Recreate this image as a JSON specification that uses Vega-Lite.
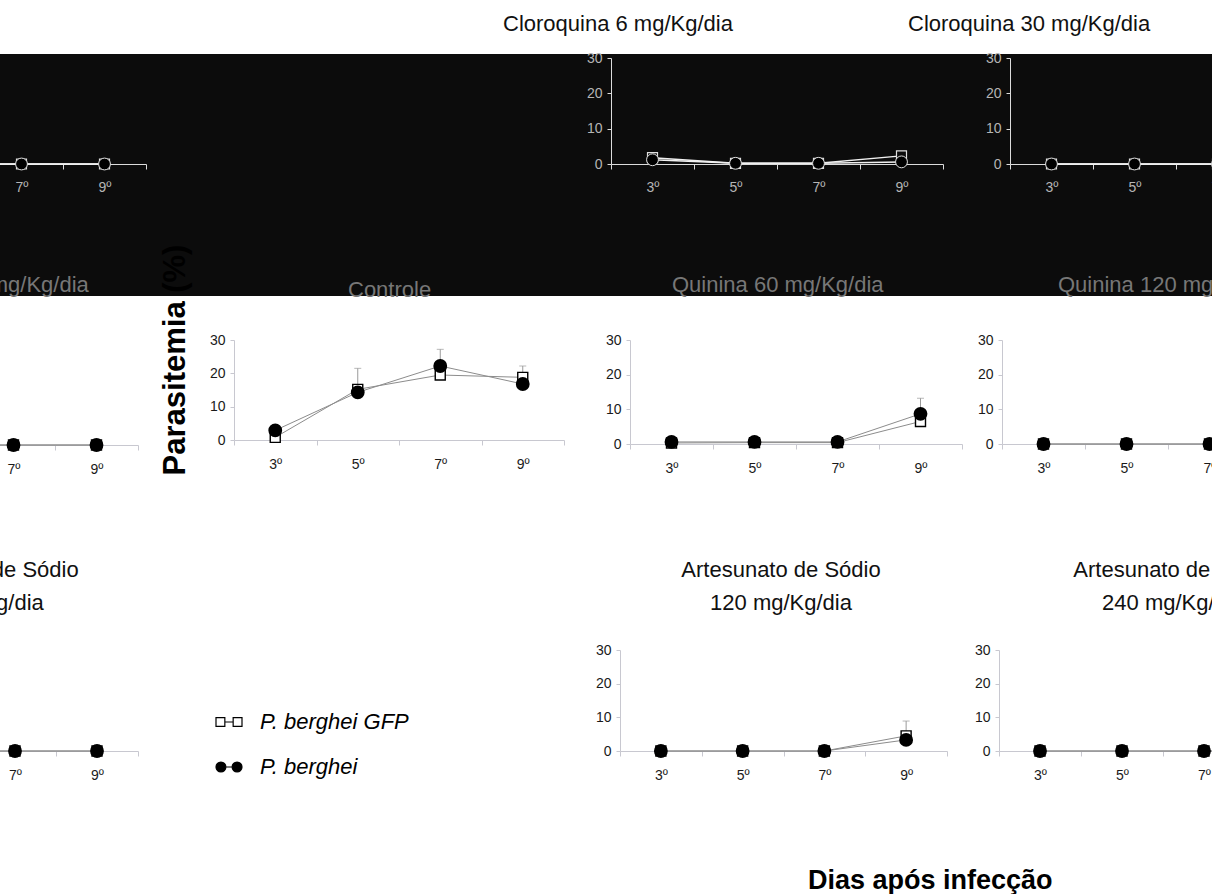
{
"$schema": "https://vega.github.io/schema/vega-lite/v6.json",
"background": "white",
"padding": {"left": -196, "right": -188, "top": 13, "bottom": 0},
"data": {"values": [
{"painel":"1L","dia":"3º","serie":"P. berghei GFP","parasitemia":0},
{"painel":"1L","dia":"5º","serie":"P. berghei GFP","parasitemia":0},
{"painel":"1L","dia":"7º","serie":"P. berghei GFP","parasitemia":0},
{"painel":"1L","dia":"9º","serie":"P. berghei GFP","parasitemia":0},
{"painel":"1L","dia":"3º","serie":"P. berghei","parasitemia":0},
{"painel":"1L","dia":"5º","serie":"P. berghei","parasitemia":0},
{"painel":"1L","dia":"7º","serie":"P. berghei","parasitemia":0},
{"painel":"1L","dia":"9º","serie":"P. berghei","parasitemia":0},
{"painel":"1C3","dia":"3º","serie":"P. berghei GFP","parasitemia":1.8},
{"painel":"1C3","dia":"5º","serie":"P. berghei GFP","parasitemia":0.2},
{"painel":"1C3","dia":"7º","serie":"P. berghei GFP","parasitemia":0.2},
{"painel":"1C3","dia":"9º","serie":"P. berghei GFP","parasitemia":2.3},
{"painel":"1C3","dia":"3º","serie":"P. berghei","parasitemia":1.2},
{"painel":"1C3","dia":"5º","serie":"P. berghei","parasitemia":0.2},
{"painel":"1C3","dia":"7º","serie":"P. berghei","parasitemia":0.2},
{"painel":"1C3","dia":"9º","serie":"P. berghei","parasitemia":0.6},
{"painel":"1C4","dia":"3º","serie":"P. berghei GFP","parasitemia":0},
{"painel":"1C4","dia":"5º","serie":"P. berghei GFP","parasitemia":0},
{"painel":"1C4","dia":"7º","serie":"P. berghei GFP","parasitemia":0},
{"painel":"1C4","dia":"9º","serie":"P. berghei GFP","parasitemia":0},
{"painel":"1C4","dia":"3º","serie":"P. berghei","parasitemia":0},
{"painel":"1C4","dia":"5º","serie":"P. berghei","parasitemia":0},
{"painel":"1C4","dia":"7º","serie":"P. berghei","parasitemia":0},
{"painel":"1C4","dia":"9º","serie":"P. berghei","parasitemia":0},
{"painel":"2L","dia":"3º","serie":"P. berghei GFP","parasitemia":0},
{"painel":"2L","dia":"5º","serie":"P. berghei GFP","parasitemia":0},
{"painel":"2L","dia":"7º","serie":"P. berghei GFP","parasitemia":0},
{"painel":"2L","dia":"9º","serie":"P. berghei GFP","parasitemia":0},
{"painel":"2L","dia":"3º","serie":"P. berghei","parasitemia":0},
{"painel":"2L","dia":"5º","serie":"P. berghei","parasitemia":0},
{"painel":"2L","dia":"7º","serie":"P. berghei","parasitemia":0},
{"painel":"2L","dia":"9º","serie":"P. berghei","parasitemia":0},
{"painel":"2C","dia":"3º","serie":"P. berghei GFP","parasitemia":0.8},
{"painel":"2C","dia":"5º","serie":"P. berghei GFP","parasitemia":15.2,"erro":21.5},
{"painel":"2C","dia":"7º","serie":"P. berghei GFP","parasitemia":19.5},
{"painel":"2C","dia":"9º","serie":"P. berghei GFP","parasitemia":18.8,"erro":22.2},
{"painel":"2C","dia":"3º","serie":"P. berghei","parasitemia":2.9},
{"painel":"2C","dia":"5º","serie":"P. berghei","parasitemia":14.3},
{"painel":"2C","dia":"7º","serie":"P. berghei","parasitemia":22.2,"erro":27.2},
{"painel":"2C","dia":"9º","serie":"P. berghei","parasitemia":16.8},
{"painel":"2Q60","dia":"3º","serie":"P. berghei GFP","parasitemia":0.3},
{"painel":"2Q60","dia":"5º","serie":"P. berghei GFP","parasitemia":0.4},
{"painel":"2Q60","dia":"7º","serie":"P. berghei GFP","parasitemia":0.4},
{"painel":"2Q60","dia":"9º","serie":"P. berghei GFP","parasitemia":6.5},
{"painel":"2Q60","dia":"3º","serie":"P. berghei","parasitemia":0.6},
{"painel":"2Q60","dia":"5º","serie":"P. berghei","parasitemia":0.6},
{"painel":"2Q60","dia":"7º","serie":"P. berghei","parasitemia":0.6},
{"painel":"2Q60","dia":"9º","serie":"P. berghei","parasitemia":8.7,"erro":13.2},
{"painel":"2Q120","dia":"3º","serie":"P. berghei GFP","parasitemia":0},
{"painel":"2Q120","dia":"5º","serie":"P. berghei GFP","parasitemia":0},
{"painel":"2Q120","dia":"7º","serie":"P. berghei GFP","parasitemia":0},
{"painel":"2Q120","dia":"9º","serie":"P. berghei GFP","parasitemia":0},
{"painel":"2Q120","dia":"3º","serie":"P. berghei","parasitemia":0},
{"painel":"2Q120","dia":"5º","serie":"P. berghei","parasitemia":0},
{"painel":"2Q120","dia":"7º","serie":"P. berghei","parasitemia":0},
{"painel":"2Q120","dia":"9º","serie":"P. berghei","parasitemia":0},
{"painel":"3L","dia":"3º","serie":"P. berghei GFP","parasitemia":0},
{"painel":"3L","dia":"5º","serie":"P. berghei GFP","parasitemia":0},
{"painel":"3L","dia":"7º","serie":"P. berghei GFP","parasitemia":0},
{"painel":"3L","dia":"9º","serie":"P. berghei GFP","parasitemia":0},
{"painel":"3L","dia":"3º","serie":"P. berghei","parasitemia":0},
{"painel":"3L","dia":"5º","serie":"P. berghei","parasitemia":0},
{"painel":"3L","dia":"7º","serie":"P. berghei","parasitemia":0},
{"painel":"3L","dia":"9º","serie":"P. berghei","parasitemia":0},
{"painel":"3C3","dia":"3º","serie":"P. berghei GFP","parasitemia":0},
{"painel":"3C3","dia":"5º","serie":"P. berghei GFP","parasitemia":0},
{"painel":"3C3","dia":"7º","serie":"P. berghei GFP","parasitemia":0},
{"painel":"3C3","dia":"9º","serie":"P. berghei GFP","parasitemia":4.5,"erro":8.9},
{"painel":"3C3","dia":"3º","serie":"P. berghei","parasitemia":0},
{"painel":"3C3","dia":"5º","serie":"P. berghei","parasitemia":0},
{"painel":"3C3","dia":"7º","serie":"P. berghei","parasitemia":0},
{"painel":"3C3","dia":"9º","serie":"P. berghei","parasitemia":3.3},
{"painel":"3C4","dia":"3º","serie":"P. berghei GFP","parasitemia":0},
{"painel":"3C4","dia":"5º","serie":"P. berghei GFP","parasitemia":0},
{"painel":"3C4","dia":"7º","serie":"P. berghei GFP","parasitemia":0},
{"painel":"3C4","dia":"9º","serie":"P. berghei GFP","parasitemia":0},
{"painel":"3C4","dia":"3º","serie":"P. berghei","parasitemia":0},
{"painel":"3C4","dia":"5º","serie":"P. berghei","parasitemia":0},
{"painel":"3C4","dia":"7º","serie":"P. berghei","parasitemia":0},
{"painel":"3C4","dia":"9º","serie":"P. berghei","parasitemia":0}
]},
"title": {"text": "Dias após infecção", "orient": "bottom", "anchor": "start", "frame": "bounds", "dx": 1004, "offset": 99, "fontSize": 27, "fontWeight": "bold", "color": "black", "baseline": "middle"},
"config": {
  "font": "Liberation Sans",
  "view": {"stroke": null},
  "title": {"font": "Liberation Sans", "fontSize": 22, "fontWeight": "normal", "color": "#111111", "baseline": "middle", "frame": "group"},
  "axis": {"grid": false, "labelFont": "Liberation Sans", "labelFontSize": 14, "labelColor": "#1a1a1a", "domainColor": "#c8c8d0", "tickColor": "#c8c8d0", "domainWidth": 1, "tickWidth": 1},
  "axisX": {"tickBand": "extent", "tickSize": 5, "labelPadding": 12, "labelAngle": 0},
  "axisY": {"tickSize": 4, "labelPadding": 5}
},
"columns": 4,
"align": "each",
"spacing": {"row": 44, "column": 0},
"bounds": "flush",
"concat": [
  {"width": 430, "height": 242, "view": {"fill": "#0c0c0c", "stroke": null},
   "transform": [{"filter": "datum.painel == '1L'"}],
   "encoding": {
     "x": {"field": "dia", "type": "ordinal", "scale": {"type": "band", "domain": ["3º","5º","7º","9º"], "range": [10, 342], "paddingInner": 0, "paddingOuter": 0}, "axis": {"title": null, "offset": -132, "labelColor": "#b5b5b5", "domainColor": "#dcdcdc", "tickColor": "#dcdcdc", "labelPadding": 11}},
     "y": {"field": "parasitemia", "type": "quantitative", "scale": {"domain": [0, 30], "nice": false, "range": [110, 4]}, "axis": null}},
   "layer": [
     {"mark": {"type": "line", "color": "#f0f0f0", "strokeWidth": 1.5}, "encoding": {"detail": {"field": "serie"}}},
     {"transform": [{"filter": "datum.serie == 'P. berghei GFP'"}], "mark": {"type": "point", "shape": "square", "filled": true, "fill": "#0c0c0c", "stroke": "#e0e0e0", "strokeWidth": 1.2, "size": 100, "opacity": 1}},
     {"transform": [{"filter": "datum.serie == 'P. berghei'"}], "mark": {"type": "point", "shape": "circle", "filled": true, "fill": "black", "stroke": "#e0e0e0", "strokeWidth": 1, "size": 140, "opacity": 1}}
   ]},
  {"width": 377, "height": 242, "view": {"fill": "#0c0c0c", "stroke": null},
   "transform": [{"filter": "datum.painel == '1M'"}],
   "mark": {"type": "point", "opacity": 0}},
  {"width": 388, "height": 242, "view": {"fill": "#0c0c0c", "stroke": null},
   "title": {"text": "Cloroquina 6 mg/Kg/dia", "anchor": "start", "dx": -108, "offset": 15},
   "transform": [{"filter": "datum.painel == '1C3'"}],
   "encoding": {
     "x": {"field": "dia", "type": "ordinal", "scale": {"type": "band", "domain": ["3º","5º","7º","9º"], "range": [0, 332], "paddingInner": 0, "paddingOuter": 0}, "axis": {"title": null, "offset": -132, "labelColor": "#b5b5b5", "domainColor": "#dcdcdc", "tickColor": "#dcdcdc", "labelPadding": 11}},
     "y": {"field": "parasitemia", "type": "quantitative", "scale": {"domain": [0, 30], "nice": false, "range": [110, 4]}, "axis": {"title": null, "values": [0, 10, 20, 30], "labelColor": "#b5b5b5", "domainColor": "#dcdcdc", "tickColor": "#dcdcdc"}}},
   "layer": [
     {"mark": {"type": "line", "color": "#f0f0f0", "strokeWidth": 1.5}, "encoding": {"detail": {"field": "serie"}}},
     {"transform": [{"filter": "datum.serie == 'P. berghei GFP'"}], "mark": {"type": "point", "shape": "square", "filled": true, "fill": "#0c0c0c", "stroke": "#e0e0e0", "strokeWidth": 1.2, "size": 100, "opacity": 1}},
     {"transform": [{"filter": "datum.serie == 'P. berghei'"}], "mark": {"type": "point", "shape": "circle", "filled": true, "fill": "black", "stroke": "#e0e0e0", "strokeWidth": 1, "size": 140, "opacity": 1}}
   ]},
  {"width": 401, "height": 242, "view": {"fill": "#0c0c0c", "stroke": null},
   "title": {"text": "Cloroquina 30 mg/Kg/dia", "anchor": "start", "dx": -91, "offset": 15},
   "transform": [{"filter": "datum.painel == '1C4'"}],
   "encoding": {
     "x": {"field": "dia", "type": "ordinal", "scale": {"type": "band", "domain": ["3º","5º","7º","9º"], "range": [11, 343], "paddingInner": 0, "paddingOuter": 0}, "axis": {"title": null, "offset": -132, "labelColor": "#b5b5b5", "domainColor": "#dcdcdc", "tickColor": "#dcdcdc", "labelPadding": 11}},
     "y": {"field": "parasitemia", "type": "quantitative", "scale": {"domain": [0, 30], "nice": false, "range": [110, 4]}, "axis": {"title": null, "offset": -11, "values": [0, 10, 20, 30], "labelColor": "#b5b5b5", "domainColor": "#dcdcdc", "tickColor": "#dcdcdc"}}},
   "layer": [
     {"mark": {"type": "line", "color": "#f0f0f0", "strokeWidth": 1.5}, "encoding": {"detail": {"field": "serie"}}},
     {"transform": [{"filter": "datum.serie == 'P. berghei GFP'"}], "mark": {"type": "point", "shape": "square", "filled": true, "fill": "#0c0c0c", "stroke": "#e0e0e0", "strokeWidth": 1.2, "size": 100, "opacity": 1}},
     {"transform": [{"filter": "datum.serie == 'P. berghei'"}], "mark": {"type": "point", "shape": "circle", "filled": true, "fill": "black", "stroke": "#e0e0e0", "strokeWidth": 1, "size": 140, "opacity": 1}}
   ]},
  {"width": 430, "height": 266,
   "title": {"text": "Quinina 30 mg/Kg/dia", "anchor": "middle", "dx": -36, "offset": 43, "color": "#777777"},
   "transform": [{"filter": "datum.painel == '2L'"}],
   "encoding": {
     "x": {"field": "dia", "type": "ordinal", "scale": {"type": "band", "domain": ["3º","5º","7º","9º"], "range": [2, 334], "paddingInner": 0, "paddingOuter": 0}, "axis": {"title": null, "offset": -161}},
     "y": {"field": "parasitemia", "type": "quantitative", "scale": {"domain": [0, 30], "nice": false, "range": [105, 0]}, "axis": null}},
   "layer": [
     {"mark": {"type": "line", "color": "#8c8c8c", "strokeWidth": 1}, "encoding": {"detail": {"field": "serie"}}},
     {"transform": [{"filter": "datum.serie == 'P. berghei GFP'"}], "mark": {"type": "point", "shape": "square", "filled": true, "fill": "white", "stroke": "black", "strokeWidth": 1.4, "size": 100, "opacity": 1}},
     {"transform": [{"filter": "datum.serie == 'P. berghei'"}], "mark": {"type": "point", "shape": "circle", "filled": true, "fill": "black", "stroke": "black", "size": 140, "opacity": 1}}
   ]},
  {"width": 377, "height": 266,
   "title": {"text": "Controle", "anchor": "start", "dx": 114, "offset": -58, "color": "#777777"},
   "transform": [{"filter": "datum.painel == '2C'"}],
   "encoding": {
     "x": {"field": "dia", "type": "ordinal", "scale": {"type": "band", "domain": ["3º","5º","7º","9º"], "range": [0, 330], "paddingInner": 0, "paddingOuter": 0}, "axis": {"title": null, "offset": -166}},
     "y": {"field": "parasitemia", "type": "quantitative", "scale": {"domain": [0, 30], "nice": false, "range": [100, 0]}, "axis": {"title": "Parasitemia (%)", "values": [0, 10, 20, 30], "titleFont": "Liberation Sans", "titleFontSize": 31, "titleFontWeight": "bold", "titleColor": "black", "titleAngle": 270, "titleX": -59, "titleY": 19.5, "titleAlign": "center", "titleBaseline": "middle"}}},
   "layer": [
     {"transform": [{"filter": "isValid(datum.erro)"}], "mark": {"type": "rule", "color": "#9a9a9a"}, "encoding": {"y2": {"field": "erro"}}},
     {"transform": [{"filter": "isValid(datum.erro)"}], "mark": {"type": "tick", "color": "#9a9a9a", "size": 7, "thickness": 1}, "encoding": {"y": {"field": "erro", "type": "quantitative"}}},
     {"mark": {"type": "line", "color": "#8c8c8c", "strokeWidth": 1}, "encoding": {"detail": {"field": "serie"}}},
     {"transform": [{"filter": "datum.serie == 'P. berghei GFP'"}], "mark": {"type": "point", "shape": "square", "filled": true, "fill": "white", "stroke": "black", "strokeWidth": 1.4, "size": 100, "opacity": 1}},
     {"transform": [{"filter": "datum.serie == 'P. berghei'"}], "mark": {"type": "point", "shape": "circle", "filled": true, "fill": "black", "stroke": "black", "size": 140, "opacity": 1}}
   ]},
  {"width": 388, "height": 266,
   "title": {"text": "Quinina 60 mg/Kg/dia", "anchor": "start", "dx": 61, "offset": 36, "color": "#777777"},
   "transform": [{"filter": "datum.painel == '2Q60'"}],
   "encoding": {
     "x": {"field": "dia", "type": "ordinal", "scale": {"type": "band", "domain": ["3º","5º","7º","9º"], "range": [19, 351], "paddingInner": 0, "paddingOuter": 0}, "axis": {"title": null, "offset": -162}},
     "y": {"field": "parasitemia", "type": "quantitative", "scale": {"domain": [0, 30], "nice": false, "range": [104, 0]}, "axis": {"title": null, "offset": -19, "values": [0, 10, 20, 30]}}},
   "layer": [
     {"transform": [{"filter": "isValid(datum.erro)"}], "mark": {"type": "rule", "color": "#9a9a9a"}, "encoding": {"y2": {"field": "erro"}}},
     {"transform": [{"filter": "isValid(datum.erro)"}], "mark": {"type": "tick", "color": "#9a9a9a", "size": 7, "thickness": 1}, "encoding": {"y": {"field": "erro", "type": "quantitative"}}},
     {"mark": {"type": "line", "color": "#8c8c8c", "strokeWidth": 1}, "encoding": {"detail": {"field": "serie"}}},
     {"transform": [{"filter": "datum.serie == 'P. berghei GFP'"}], "mark": {"type": "point", "shape": "square", "filled": true, "fill": "white", "stroke": "black", "strokeWidth": 1.4, "size": 100, "opacity": 1}},
     {"transform": [{"filter": "datum.serie == 'P. berghei'"}], "mark": {"type": "point", "shape": "circle", "filled": true, "fill": "black", "stroke": "black", "size": 140, "opacity": 1}}
   ]},
  {"width": 401, "height": 266,
   "title": {"text": "Quinina 120 mg/Kg/dia", "anchor": "start", "dx": 59, "offset": 36, "color": "#777777"},
   "transform": [{"filter": "datum.painel == '2Q120'"}],
   "encoding": {
     "x": {"field": "dia", "type": "ordinal", "scale": {"type": "band", "domain": ["3º","5º","7º","9º"], "range": [3, 335], "paddingInner": 0, "paddingOuter": 0}, "axis": {"title": null, "offset": -162}},
     "y": {"field": "parasitemia", "type": "quantitative", "scale": {"domain": [0, 30], "nice": false, "range": [104, 0]}, "axis": {"title": null, "offset": -3, "values": [0, 10, 20, 30]}}},
   "layer": [
     {"mark": {"type": "line", "color": "#8c8c8c", "strokeWidth": 1}, "encoding": {"detail": {"field": "serie"}}},
     {"transform": [{"filter": "datum.serie == 'P. berghei GFP'"}], "mark": {"type": "point", "shape": "square", "filled": true, "fill": "white", "stroke": "black", "strokeWidth": 1.4, "size": 100, "opacity": 1}},
     {"transform": [{"filter": "datum.serie == 'P. berghei'"}], "mark": {"type": "point", "shape": "circle", "filled": true, "fill": "black", "stroke": "black", "size": 140, "opacity": 1}}
   ]},
  {"width": 430, "height": 101,
   "title": {"text": ["Artesunato de Sódio", "60 mg/Kg/dia"], "anchor": "middle", "dx": -40, "offset": 35.5, "lineHeight": 33},
   "transform": [{"filter": "datum.painel == '3L'"}],
   "encoding": {
     "x": {"field": "dia", "type": "ordinal", "scale": {"type": "band", "domain": ["3º","5º","7º","9º"], "range": [6, 334], "paddingInner": 0, "paddingOuter": 0}, "axis": {"title": null}},
     "y": {"field": "parasitemia", "type": "quantitative", "scale": {"domain": [0, 30], "nice": false}, "axis": null}},
   "layer": [
     {"mark": {"type": "line", "color": "#8c8c8c", "strokeWidth": 1}, "encoding": {"detail": {"field": "serie"}}},
     {"transform": [{"filter": "datum.serie == 'P. berghei GFP'"}], "mark": {"type": "point", "shape": "square", "filled": true, "fill": "white", "stroke": "black", "strokeWidth": 1.4, "size": 100, "opacity": 1}},
     {"transform": [{"filter": "datum.serie == 'P. berghei'"}], "mark": {"type": "point", "shape": "circle", "filled": true, "fill": "black", "stroke": "black", "size": 140, "opacity": 1}},
     {"mark": {"type": "point", "filled": true, "opacity": 0, "stroke": "black", "strokeWidth": 1.2},
      "encoding": {
        "fill": {"field": "serie", "type": "nominal", "scale": {"domain": ["P. berghei GFP", "P. berghei"], "range": ["white", "black"]},
          "legend": {"orient": "none", "legendX": 411, "legendY": 654, "title": null, "padding": 0, "symbolSize": 676, "symbolOpacity": 1, "symbolStrokeColor": "black", "symbolStrokeWidth": 1.2, "labelFont": "Liberation Sans", "labelFontSize": 22, "labelFontStyle": "italic", "labelColor": "black", "labelOffset": 17, "labelLimit": 400, "rowPadding": 20,
            "encode": {"symbols": {"update": {"stroke": {"value": "black"}, "strokeWidth": {"value": 1.2}, "opacity": {"value": 1}}}}}},
        "shape": {"field": "serie", "type": "nominal", "scale": {"domain": ["P. berghei GFP", "P. berghei"], "range": ["M-1,-0.34H-0.32V0.34H-1Z M-0.32,0H0.32 M0.32,-0.34H1V0.34H0.32Z", "M-1,0A0.38,0.38 0 1,1 -0.24,0A0.38,0.38 0 1,1 -1,0Z M-0.24,0H0.24 M0.24,0A0.38,0.38 0 1,1 1,0A0.38,0.38 0 1,1 0.24,0Z"]},
          "legend": {"orient": "none", "legendX": 411, "legendY": 654, "title": null, "padding": 0, "symbolSize": 676, "symbolOpacity": 1, "symbolStrokeColor": "black", "symbolStrokeWidth": 1.2, "labelFont": "Liberation Sans", "labelFontSize": 22, "labelFontStyle": "italic", "labelColor": "black", "labelOffset": 17, "labelLimit": 400, "rowPadding": 20,
            "encode": {"symbols": {"update": {"stroke": {"value": "black"}, "strokeWidth": {"value": 1.2}, "opacity": {"value": 1}}}}}}
      }}
   ]},
  {"width": 377, "height": 101,
   "transform": [{"filter": "datum.painel == '3M'"}],
   "mark": {"type": "point", "opacity": 0}},
  {"width": 388, "height": 101,
   "title": {"text": ["Artesunato de Sódio", "120 mg/Kg/dia"], "anchor": "middle", "dx": -24, "offset": 28.5, "lineHeight": 33},
   "transform": [{"filter": "datum.painel == '3C3'"}],
   "encoding": {
     "x": {"field": "dia", "type": "ordinal", "scale": {"type": "band", "domain": ["3º","5º","7º","9º"], "range": [9, 336], "paddingInner": 0, "paddingOuter": 0}, "axis": {"title": null}},
     "y": {"field": "parasitemia", "type": "quantitative", "scale": {"domain": [0, 30], "nice": false}, "axis": {"title": null, "offset": -9, "values": [0, 10, 20, 30]}}},
   "layer": [
     {"transform": [{"filter": "isValid(datum.erro)"}], "mark": {"type": "rule", "color": "#9a9a9a"}, "encoding": {"y2": {"field": "erro"}}},
     {"transform": [{"filter": "isValid(datum.erro)"}], "mark": {"type": "tick", "color": "#9a9a9a", "size": 7, "thickness": 1}, "encoding": {"y": {"field": "erro", "type": "quantitative"}}},
     {"mark": {"type": "line", "color": "#8c8c8c", "strokeWidth": 1}, "encoding": {"detail": {"field": "serie"}}},
     {"transform": [{"filter": "datum.serie == 'P. berghei GFP'"}], "mark": {"type": "point", "shape": "square", "filled": true, "fill": "white", "stroke": "black", "strokeWidth": 1.4, "size": 100, "opacity": 1}},
     {"transform": [{"filter": "datum.serie == 'P. berghei'"}], "mark": {"type": "point", "shape": "circle", "filled": true, "fill": "black", "stroke": "black", "size": 140, "opacity": 1}}
   ]},
  {"width": 401, "height": 101,
   "title": {"text": ["Artesunato de Sódio", "240 mg/Kg/dia"], "anchor": "middle", "dx": -26.5, "offset": 28.5, "lineHeight": 33},
   "transform": [{"filter": "datum.painel == '3C4'"}],
   "encoding": {
     "x": {"field": "dia", "type": "ordinal", "scale": {"type": "band", "domain": ["3º","5º","7º","9º"], "range": [0, 328], "paddingInner": 0, "paddingOuter": 0}, "axis": {"title": null}},
     "y": {"field": "parasitemia", "type": "quantitative", "scale": {"domain": [0, 30], "nice": false}, "axis": {"title": null, "values": [0, 10, 20, 30]}}},
   "layer": [
     {"mark": {"type": "line", "color": "#8c8c8c", "strokeWidth": 1}, "encoding": {"detail": {"field": "serie"}}},
     {"transform": [{"filter": "datum.serie == 'P. berghei GFP'"}], "mark": {"type": "point", "shape": "square", "filled": true, "fill": "white", "stroke": "black", "strokeWidth": 1.4, "size": 100, "opacity": 1}},
     {"transform": [{"filter": "datum.serie == 'P. berghei'"}], "mark": {"type": "point", "shape": "circle", "filled": true, "fill": "black", "stroke": "black", "size": 140, "opacity": 1}}
   ]}
]
}
